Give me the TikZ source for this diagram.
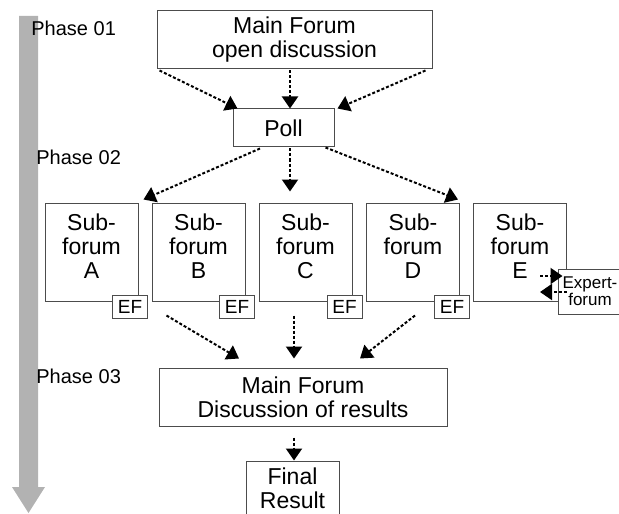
\documentclass[tikz,border=0pt]{standalone}
\usepackage{fontspec}
\setmainfont{Liberation Sans}
\usetikzlibrary{arrows.meta}
\usetikzlibrary{positioning}

\begin{document}
\begin{tikzpicture}[x=0.5pt, y=-0.5pt,
  box/.style={draw=black!70, line width=0.5pt, fill=white, inner sep=0pt, align=center, font=\fontsize{11.5}{12}\selectfont},
  subbox/.style={box, minimum width=46.5pt, minimum height=49pt, text depth=6pt},
  efbox/.style={box, minimum width=17.5pt, minimum height=11.5pt, font=\fontsize{9.5}{10}\selectfont},
  flow/.style={line width=1pt, dash pattern=on 1.5pt off 1pt, -{Triangle[width=8pt,length=6pt]}},
  phase/.style={anchor=west, inner sep=0pt, font=\fontsize{10}{10}\selectfont}]

\useasboundingbox (0,0) rectangle (619,513);

% time line
\fill[black!30] (19,16) -- (38,16) -- (38,487) -- (45,487) -- (28.5,513) -- (12,487) -- (19,487) -- cycle;

\node[phase] (ph1) at (31,28) {Phase 01};
\node[phase] (ph2) at (36,157) {Phase 02};
\node[phase] (ph3) at (36,376) {Phase 03};

\node[box, minimum width=137.5pt, minimum height=29pt] (mainA) at (294.5,40) {Main Forum\\open discussion};
\node[box, minimum width=50.5pt, minimum height=19pt] (poll) at (283.5,128) {Poll};

\node[subbox] (subA) at (91.5,252) {Sub-\\forum\\A};
\node[subbox] (subB) at (198.5,252) {Sub-\\forum\\B};
\node[subbox] (subC) at (305.5,252) {Sub-\\forum\\C};
\node[subbox] (subD) at (413,252) {Sub-\\forum\\D};
\node[subbox] (subE) at (520,252) {Sub-\\forum\\E};

\node[efbox] (efA) at ([shift={(-8.5,5.5)}]subA.south east) {EF};
\node[efbox] (efB) at ([shift={(-8.5,5.5)}]subB.south east) {EF};
\node[efbox] (efC) at ([shift={(-8,5.5)}]subC.south east) {EF};
\node[efbox] (efD) at ([shift={(-8,5.5)}]subD.south east) {EF};

\node[box, minimum width=32pt, minimum height=22.5pt, font=\fontsize{8.5}{8.5}\selectfont] (expert) at (590,291.5) {Expert-\\forum};

\node[box, minimum width=144pt, minimum height=29pt] (mainB) at (303,397) {Main Forum\\Discussion of results};
\node[box, minimum width=46.5pt, minimum height=27.5pt] (final) at (292.5,488.5) {Final\\Result};

\draw[flow] ([shift={(3,1)}]mainA.south west) -- ([shift={(5,0)}]poll.north west);
\draw[flow] ([shift={(-4.5,1)}]mainA.south) -- ([shift={(-4.5,0)}]mainA.south |- poll.north);
\draw[flow] ([shift={(-7,1)}]mainA.south east) -- ([shift={(3,0)}]poll.north east);

\draw[flow] ([shift={(-23.5,1)}]poll.south) -- ([shift={(5,-3)}]subA.north east);
\draw[flow] ([shift={(6.5,1)}]poll.south) -- ([shift={(-15.5,-11)}]subC.north);
\draw[flow] ([shift={(-9,0)}]poll.south east) -- ([shift={(-2,-3)}]subD.north east);

\draw[flow] ([shift={(-27,24)}]subE.east) -- ([shift={(5,-15.5)}]expert.west);
\draw[flow] ([shift={(9,0.5)}]expert.west) -- ([shift={(-27,40)}]subE.east);

\draw[flow] ([shift={(15,14)}]subB.south west) -- ([shift={(-64,-9)}]mainB.north);
\draw[flow] ([shift={(-11.5,14)}]subC.south) -- ([shift={(-9,-9)}]mainB.north);
\draw[flow] ([shift={(2,14)}]subD.south) -- ([shift={(57,-9)}]mainB.north);

\draw[flow] ([shift={(-9,11)}]mainB.south) -- ([shift={(1.5,0)}]final.north);

\end{tikzpicture}
\end{document}
